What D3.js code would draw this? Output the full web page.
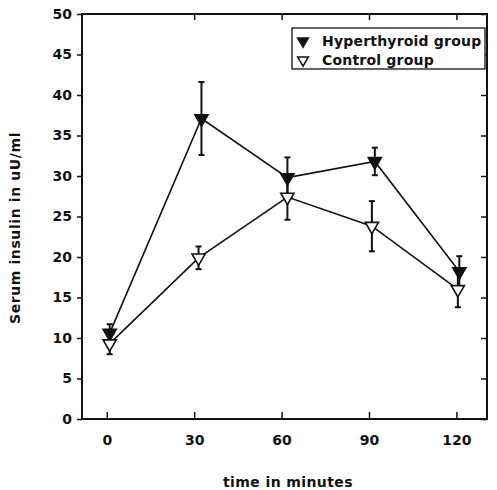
<!DOCTYPE html>
<html>
<head>
<meta charset="utf-8">
<script src="https://cdn.jsdelivr.net/npm/d3@7"></script>
<style>
  body { margin: 0; background: #fff; }
  text { font-family: "DejaVu Sans", sans-serif; fill: #111; }
</style>
</head>
<body>
<svg id="chart" width="497" height="490"></svg>
<script>
// data
const xTicks = [0, 30, 60, 90, 120];
const yTicks = [0, 5, 10, 15, 20, 25, 30, 35, 40, 45, 50];

const hyperTime = [1, 32.5, 62, 92, 121];
const hyperMean = [10.6, 37.1, 29.8, 31.8, 18.2];
const hyperErr = [1.1, 4.5, 2.5, 1.7, 1.9];

const controlTime = [1, 31.5, 62, 91, 120.5];
const controlMean = [9.3, 19.9, 27.4, 23.8, 16.0];
const controlErr = [1.3, 1.4, 2.8, 3.1, 2.2];

const legendLabels = ["Hyperthyroid group", "Control group"];

const svg = d3.select("#chart");
const plotL = 82, plotR = 487, plotT = 14, plotB = 419;

const x = d3.scaleLinear().domain([-8.5, 130.5]).range([plotL, plotR]);
const y = d3.scaleLinear().domain([0, 50]).range([plotB, plotT]);

// frame
svg.append("rect")
  .attr("x", plotL).attr("y", plotT)
  .attr("width", plotR - plotL).attr("height", plotB - plotT)
  .attr("fill", "none").attr("stroke", "#111").attr("stroke-width", 2);

// left axis, ticks outward
const yAxis = svg.append("g")
  .attr("transform", `translate(${plotL},0)`)
  .call(d3.axisLeft(y).tickValues(yTicks).tickSize(5).tickPadding(5));
yAxis.select(".domain").remove();
yAxis.selectAll("line").attr("stroke", "#111").attr("stroke-width", 1.5);
yAxis.selectAll("text").style("font-size", "14px").style("font-weight", "bold")
  .style("font-family", "DejaVu Sans");

// right axis, ticks inward
const yRight = svg.append("g")
  .attr("transform", `translate(${plotR},0)`)
  .call(d3.axisLeft(y).tickValues(yTicks).tickSize(6).tickFormat(""));
yRight.select(".domain").remove();
yRight.selectAll("line").attr("stroke", "#111").attr("stroke-width", 1.5);

// bottom axis, ticks inward
const xAxis = svg.append("g")
  .attr("transform", `translate(0,${plotB})`)
  .call(d3.axisBottom(x).tickValues(xTicks).tickSize(-7).tickPadding(16));
xAxis.select(".domain").remove();
xAxis.selectAll("line").attr("stroke", "#111").attr("stroke-width", 1.5);
xAxis.selectAll("text").style("font-size", "14px").style("font-weight", "bold")
  .style("font-family", "DejaVu Sans");

// top axis, ticks inward
const xTop = svg.append("g")
  .attr("transform", `translate(0,${plotT})`)
  .call(d3.axisTop(x).tickValues(xTicks.slice(1)).tickSize(-6).tickFormat(""));
xTop.select(".domain").remove();
xTop.selectAll("line").attr("stroke", "#111").attr("stroke-width", 1.5);

// axis titles
svg.append("text")
  .attr("x", 288).attr("y", 487)
  .attr("text-anchor", "middle")
  .style("font-size", "14px").style("font-weight", "bold").style("letter-spacing", "0.4px")
  .text("time in minutes");

svg.append("text")
  .attr("transform", "translate(20,228) rotate(-90)")
  .attr("text-anchor", "middle")
  .style("font-size", "14px").style("font-weight", "bold").style("letter-spacing", "0.6px")
  .text("Serum insulin in uU/ml");

// series
const series = [
  { time: hyperTime, mean: hyperMean, err: hyperErr, fill: "#111" },
  { time: controlTime, mean: controlMean, err: controlErr, fill: "#fff" }
];

const line = d3.line().x(d => x(d[0])).y(d => y(d[1]));
const tri = d3.symbol().type(d3.symbolTriangle).size(75);

series.forEach(s => {
  const pts = s.time.map((t, i) => [t, s.mean[i], s.err[i]]);

  svg.append("path")
    .datum(pts)
    .attr("d", line)
    .attr("fill", "none").attr("stroke", "#111").attr("stroke-width", 1.6);

  const eb = svg.append("g").selectAll("g").data(pts).join("g");
  eb.append("line")
    .attr("x1", d => x(d[0])).attr("x2", d => x(d[0]))
    .attr("y1", d => y(d[1] - d[2])).attr("y2", d => y(d[1] + d[2]))
    .attr("stroke", "#111").attr("stroke-width", 2);
  eb.append("line")
    .attr("x1", d => x(d[0]) - 3).attr("x2", d => x(d[0]) + 3)
    .attr("y1", d => y(d[1] + d[2])).attr("y2", d => y(d[1] + d[2]))
    .attr("stroke", "#111").attr("stroke-width", 2);
  eb.append("line")
    .attr("x1", d => x(d[0]) - 3).attr("x2", d => x(d[0]) + 3)
    .attr("y1", d => y(d[1] - d[2])).attr("y2", d => y(d[1] - d[2]))
    .attr("stroke", "#111").attr("stroke-width", 2);

  svg.append("g").selectAll("path").data(pts).join("path")
    .attr("d", tri)
    .attr("transform", d => `translate(${x(d[0])},${y(d[1])}) rotate(180)`)
    .attr("fill", s.fill).attr("stroke", "#111").attr("stroke-width", 1.6);
});

// legend
const lg = svg.append("g");
lg.append("rect")
  .attr("x", 292).attr("y", 28).attr("width", 193).attr("height", 41)
  .attr("fill", "#fff").attr("stroke", "#111").attr("stroke-width", 1.3);
legendLabels.forEach((lab, i) => {
  const yy = 41 + i * 19;
  lg.append("path")
    .attr("d", d3.symbol().type(d3.symbolTriangle).size(50))
    .attr("transform", `translate(303,${yy}) rotate(180)`)
    .attr("fill", i === 0 ? "#111" : "#fff")
    .attr("stroke", "#111").attr("stroke-width", 1.5);
  lg.append("text")
    .attr("x", 322).attr("y", yy + 5)
    .style("font-size", "14px").style("font-weight", "bold").style("letter-spacing", "0.2px")
    .text(lab);
});
</script>
</body>
</html>
